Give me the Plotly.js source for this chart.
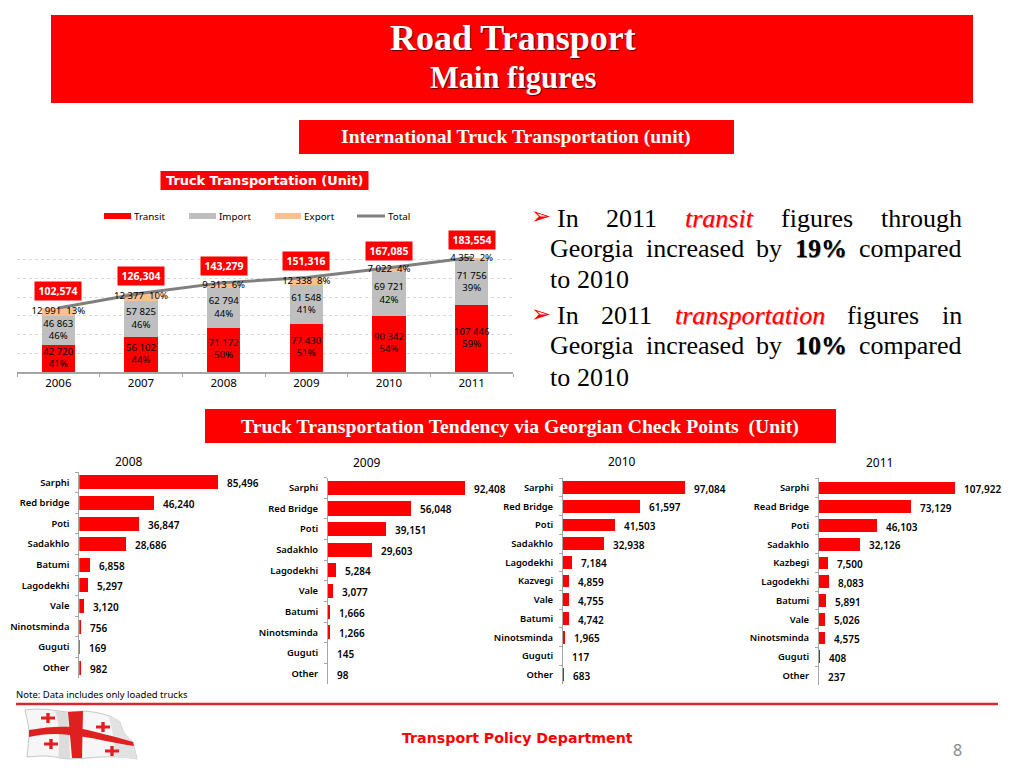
<!DOCTYPE html>
<html><head><meta charset="utf-8">
<script src="https://cdn.plot.ly/plotly-3.0.1.min.js"></script>
<style>html,body{margin:0;padding:0;background:#fff;overflow:hidden}</style>
</head><body><div id="chart" style="width:1024px;height:768px"></div>
<script>
// ---- stacked chart data
const years = ['2006','2007','2008','2009','2010','2011'];
const transit = [42720,56102,71172,77430,90342,107446];
const imports = [46863,57825,62794,61548,69721,71756];
const exports_ = [12991,12377,9313,12338,7022,4352];
const totals = [102574,126304,143279,151316,167085,183554];
const transitPct = [41,44,50,51,54,59];
const importPct = [46,46,44,41,42,39];
const exportPct = [13,10,6,8,4,2];
// ---- check point data
const cats2008 = ['Sarphi','Red bridge','Poti','Sadakhlo','Batumi','Lagodekhi','Vale','Ninotsminda','Guguti','Other'];
const vals2008 = [85496,46240,36847,28686,6858,5297,3120,756,169,982];
const cats2009 = ['Sarphi','Red Bridge','Poti','Sadakhlo','Lagodekhi','Vale','Batumi','Ninotsminda','Guguti','Other'];
const vals2009 = [92408,56048,39151,29603,5284,3077,1666,1266,145,98];
const cats2010 = ['Sarphi','Red Bridge','Poti','Sadakhlo','Lagodekhi','Kazvegi','Vale','Batumi','Ninotsminda','Guguti','Other'];
const vals2010 = [97084,61597,41503,32938,7184,4859,4755,4742,1965,117,683];
const cats2011 = ['Sarphi','Read Bridge','Poti','Sadakhlo','Kazbegi','Lagodekhi','Batumi','Vale','Ninotsminda','Guguti','Other'];
const vals2011 = [107922,73129,46103,32126,7500,8083,5891,5026,4575,408,237];

const RED='#ff0000', GREY='#bfbfbf', ORANGE='#fac090', LINE='#7f7f7f', AX='#a6a6a6';
const SANS='"Noto Sans", "DejaVu Sans", sans-serif', SERIF='"Liberation Serif", serif', WIDE='"DejaVu Sans", sans-serif';
const X=p=>p/1024, Y=p=>1-p/768;
const xd=(a,b)=>[X(a),X(b)], yd=(t,b)=>[Y(b),Y(t)];
const sp=v=>String(v).replace(/\B(?=(\d{3})+$)/g,'\u00a0');
const cm=v=>String(v).replace(/\B(?=(\d{3})+$)/g,',');

const traces=[], annotations=[], shapes=[];
const ann=(o)=>annotations.push(Object.assign({xref:'paper',yref:'paper',showarrow:false,xanchor:'center',yanchor:'middle'},o));
const rect=(x0,y0,x1,y1,fill,extra)=>shapes.push(Object.assign({type:'rect',xref:'paper',yref:'paper',x0:X(x0),x1:X(x1),y0:Y(y0),y1:Y(y1),fillcolor:fill,line:{width:0},layer:'below'},extra||{}));

// stacked bars
const stack=[[transit,RED,'Transit'],[imports,GREY,'Import'],[exports_,ORANGE,'Export']];
stack.forEach(s=>traces.push({type:'bar',x:years,y:s[0],name:s[2],width:0.4,marker:{color:s[1]},xaxis:'x',yaxis:'y',hoverinfo:'skip'}));
traces.push({type:'scatter',mode:'lines',x:years,y:totals,name:'Total',line:{color:LINE,width:3},xaxis:'x',yaxis:'y',hoverinfo:'skip'});
const labelFont={family:SANS,size:9.6,color:'#000'};
traces.push({type:'scatter',mode:'text',x:years,y:transit.map(v=>v/2),text:transit.map((v,i)=>sp(v)+'<br>'+transitPct[i]+'%'),textposition:'middle center',textfont:labelFont,cliponaxis:false,xaxis:'x',yaxis:'y',hoverinfo:'skip'});
traces.push({type:'scatter',mode:'text',x:years,y:imports.map((v,i)=>transit[i]+v/2),text:imports.map((v,i)=>sp(v)+'<br>'+importPct[i]+'%'),textposition:'middle center',textfont:labelFont,cliponaxis:false,xaxis:'x',yaxis:'y',hoverinfo:'skip'});
traces.push({type:'scatter',mode:'text',x:years,y:exports_.map((v,i)=>transit[i]+imports[i]+v/2),text:exports_.map((v,i)=>sp(v)+'\u00a0\u00a0'+exportPct[i]+'%'),textposition:'middle center',textfont:labelFont,cliponaxis:false,xaxis:'x',yaxis:'y',hoverinfo:'skip'});
totals.forEach((v,i)=>annotations.push({xref:'x',yref:'y',x:i,y:v,xshift:0,yshift:17,text:'<b>'+cm(v)+'</b>',showarrow:false,bgcolor:RED,width:44,height:15.5,font:{family:SANS,size:10.5,color:'#fff'}}));

const layout={width:1024,height:768,margin:{l:0,r:0,t:0,b:0},paper_bgcolor:'#fff',plot_bgcolor:'rgba(0,0,0,0)',showlegend:false,barmode:'stack',
 font:{family:SANS},
 xaxis:{domain:xd(17,513),type:'category',range:[-0.5,5.5],anchor:'y',tickson:'boundaries',ticks:'outside',ticklen:3,tickcolor:AX,linecolor:AX,linewidth:1.5,showline:true,showgrid:false,tickangle:0,tickfont:{family:SANS,size:11.5,color:'#000'}},
 yaxis:{domain:yd(241,372),anchor:'x',range:[0,210000],dtick:30000,showticklabels:false,ticks:'',showline:false,zeroline:false,showgrid:true,griddash:'dot',gridcolor:'#d9d9d9',gridwidth:1}
};

// horizontal bar panels
const panels=[
 {c:cats2008,v:vals2008,ax:79.3,top:472,bot:678,pxPer:615,title:'2008',tx:129,ty:461},
 {c:cats2009,v:vals2009,ax:328,top:477.5,bot:684,pxPer:674,title:'2009',tx:367,ty:462},
 {c:cats2010,v:vals2010,ax:563,top:477.5,bot:684,pxPer:795,title:'2010',tx:622,ty:461},
 {c:cats2011,v:vals2011,ax:819,top:478,bot:685,pxPer:793,title:'2011',tx:879,ty:462}
];
panels.forEach((p,i)=>{
 const n=i+2, W=170;
 traces.push({type:'bar',orientation:'h',x:p.v,y:p.c,width:0.68,marker:{color:RED},xaxis:'x'+n,yaxis:'y'+n,hoverinfo:'skip'});
 layout['xaxis'+n]={domain:xd(p.ax,p.ax+W),range:[0,W*p.pxPer],anchor:'y'+n,visible:false};
 layout['yaxis'+n]={domain:yd(p.top,p.bot),anchor:'x'+n,type:'category',autorange:'reversed',tickson:'boundaries',ticks:'outside',ticklen:3,tickcolor:AX,linecolor:AX,linewidth:1,showline:true,showgrid:false,zeroline:false,ticklabelstandoff:7,tickfont:{family:SANS,size:9.4,weight:600,color:'#000'}};
 p.v.forEach((v,k)=>annotations.push({xref:'x'+n,yref:'y'+n,x:v,y:p.c[k],xanchor:'left',xshift:7,yshift:-1,showarrow:false,text:cm(v),font:{family:SANS,size:10,weight:600,color:'#000'}}));
 ann({x:X(p.tx),y:Y(p.ty),text:p.title,font:{family:SANS,size:12,color:'#000'}});
});

// banners
rect(51,15,973,103,RED);
const shadow='1px 1px 1px #5a0000';
ann({x:X(513),y:Y(38),text:'<b>Road Transport</b>',font:{family:SERIF,size:36,color:'#fff',shadow}});
ann({x:X(513),y:Y(78),text:'<b>Main figures</b>',font:{family:SERIF,size:30.5,color:'#fff',shadow}});
rect(299,120,734,154,RED);
ann({x:X(516),y:Y(137),text:'<b>International Truck Transportation (unit)</b>',font:{family:SERIF,size:19.6,color:'#fff'}});
rect(160.5,171,368.5,190,RED);
ann({x:X(264),y:Y(180.5),text:'<b>Truck Transportation (Unit)</b>',font:{family:WIDE,size:12.9,color:'#fff'}});
rect(205,409,836,443,RED);
ann({x:X(520),y:Y(426),text:'<b>Truck Transportation Tendency via Georgian Check Points  (Unit)</b>',font:{family:SERIF,size:19.7,color:'#fff'}});

// chart legend
[[104,131,RED,'Transit',132],[189,216,GREY,'Import',217],[275,301,ORANGE,'Export',302]].forEach(l=>{
 rect(l[0],213,l[1],219,l[2]);
 ann({x:X(l[4]),y:Y(216),xanchor:'left',text:l[3],font:{family:SANS,size:9.8,color:'#000'}});
});
shapes.push({type:'line',xref:'paper',yref:'paper',x0:X(357),x1:X(385),y0:Y(216),y1:Y(216),line:{color:LINE,width:3}});
ann({x:X(386),y:Y(216),xanchor:'left',text:'Total',font:{family:SANS,size:9.8,color:'#000'}});

// justified text
const BODY=26;
const ctx=document.createElement('canvas').getContext('2d');
function measure(w){ctx.font=(w.i?'italic ':'')+(w.b?'bold ':'')+BODY+'px "Liberation Serif"';return ctx.measureText(w.t).width;}
function line(words,y,x0,x1){
 const tot=words.reduce((a,w)=>a+measure(w),0);
 const gap=x1===null?BODY*0.25:(x1-x0-tot)/(words.length-1);
 let x=x0;
 words.forEach(w=>{
  const t=(w.b?'<b>':'')+(w.i?'<i>':'')+w.t+(w.i?'</i>':'')+(w.b?'</b>':'');
  ann({x:X(x),y:Y(y),xanchor:'left',borderpad:0,borderwidth:0,text:t,font:{family:SERIF,size:BODY,color:w.c||'#000',shadow:w.i?'0.7px 0.7px 0.5px #e88':(w.b?'0.5px 0.5px 0.5px #777':undefined)}});
  x+=measure(w)+gap;
 });
}
const W=(t,o)=>Object.assign({t},o||{});
const bullet=(y)=>ann({x:X(541),y:Y(y),text:'➢',font:{family:'"DejaVu Sans"',size:24,color:RED}});
bullet(216);
line([W('In'),W('2011'),W('transit',{i:1,c:RED}),W('figures'),W('through')],218,557,962);
line([W('Georgia'),W('increased'),W('by'),W('19%',{b:1}),W('compared')],248,550,962);
line([W('to'),W('2010')],279,550,null);
bullet(314);
line([W('In'),W('2011'),W('transportation',{i:1,c:RED}),W('figures'),W('in')],316,557,962);
line([W('Georgia'),W('increased'),W('by'),W('10%',{b:1}),W('compared')],346,550,962);
line([W('to'),W('2010')],377,550,null);

// footer
ann({x:X(14),y:Y(694),xanchor:'left',text:'Note: Data includes only loaded trucks',font:{family:SANS,size:9.5,color:'#000'}});
shapes.push({type:'line',xref:'paper',yref:'paper',x0:X(16),x1:X(998),y0:Y(704),y1:Y(704),line:{color:'#d8282f',width:2.5}});
ann({x:X(517),y:Y(738),text:'<b>Transport Policy Department</b>',font:{family:WIDE,size:14.2,color:RED}});
ann({x:X(957),y:Y(750),text:'8',font:{family:SANS,size:16,color:'#8a8a8a'}});

// flag
const curve=(d)=>d.replace(/(-?\d+(?:\.\d+)?),(-?\d+(?:\.\d+)?)/g,(m,a,b)=>X(+a)+','+Y(+b));
const fpath=(d,fill,l)=>shapes.push({type:'path',xref:'paper',yref:'paper',path:curve(d),fillcolor:fill,line:l||{width:0}});
fpath('M25,710 C45,707 60,712 68,712 L83,711 C100,712 112,716 120,722 C122,730 124,735 133,742 L137,759 C122,756 110,757 100,757 C85,758 72,760 60,758 C48,755 38,756 27,757 C28,748 29,738 29,730 C28,722 26,716 25,710 Z','#f6f6f6',{color:'#b0b0b0',width:0.7});
fpath('M55,711 C60,712 65,712 68,712 L70,758 C65,759 60,758 58,758 C60,745 60,725 55,711 Z','#dcdcdc');
fpath('M108,714 C112,716 116,719 120,722 C122,730 124,735 133,742 L137,759 C130,758 122,757 115,757 C115,745 112,725 108,714 Z','#e2e2e2');
fpath('M29,730 C45,727 60,726 72,727 C95,731 115,737 133,742 L134,746 C112,743 92,737 70,735 C55,733 42,734 29,737 Z','#e02020');
fpath('M68,712 L83,711 L82,758 L72,758 Z','#e02020');
[[48,718],[103,727],[51,744],[112,751]].forEach(c=>{
 fpath(`M${c[0]-7},${c[1]-1.5} L${c[0]+7},${c[1]-1.5} L${c[0]+7},${c[1]+1.5} L${c[0]-7},${c[1]+1.5} Z`,'#e02020');
 fpath(`M${c[0]-1.7},${c[1]-5} L${c[0]+1.7},${c[1]-5} L${c[0]+1.7},${c[1]+5} L${c[0]-1.7},${c[1]+5} Z`,'#e02020');
});

layout.shapes=shapes; layout.annotations=annotations;
Plotly.newPlot('chart',traces,layout,{staticPlot:true,displayModeBar:false});
</script></body></html>
